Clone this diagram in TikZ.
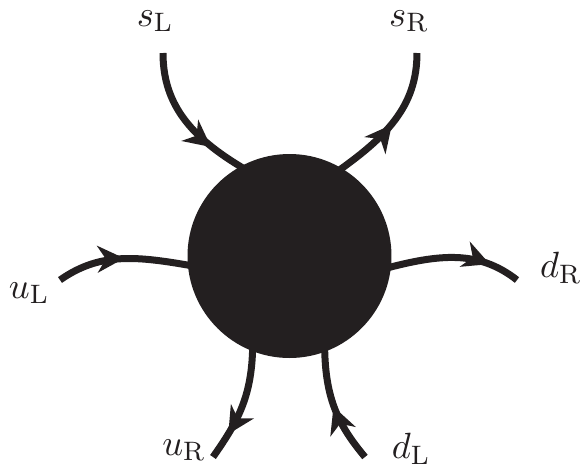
\documentclass[tikz,border=0pt]{standalone}
\usetikzlibrary{arrows.meta,decorations.markings}
\definecolor{ink}{RGB}{35,31,32}
\begin{document}
\begin{tikzpicture}[x=0.3pt,y=0.3pt,
  leg/.style={ink,line width=2.1pt,postaction={decorate},
    decoration={markings,mark=at position #1 with {\arrow{Stealth[length=8pt,width=8pt,inset=2.5pt]}}}},
  lbl/.style={font=\fontsize{11}{13}\selectfont,text=ink,inner sep=0pt}]
\useasboundingbox (0,0) rectangle (584,469);
% the blob
\node[circle,fill=ink,inner sep=0pt,minimum size=61.2pt] (blob) at (289.5,213) {};
% free ends of the legs
\coordinate (sLend) at (163,416);
\coordinate (sRend) at (417,416);
\coordinate (uLend) at (60,189);
\coordinate (dRend) at (517,189);
\coordinate (uRend) at (213,12);
\coordinate (dLend) at (365,12);
% legs
\draw[leg=0.76,shorten >=-3pt] (sLend) to[out=-90,in=150] (blob.119);
\draw[leg=0.46,shorten <=-3pt] (blob.59) to[out=35,in=-90] (sRend);
\draw[leg=0.52,shorten >=-3pt] (uLend) to[out=35,in=170] (blob.185);
\draw[leg=0.76,shorten <=-3pt] (blob.-6) to[out=15,in=142] (dRend);
\draw[leg=0.76,shorten <=-3pt] (blob.249) to[out=-90,in=55] (uRend);
\draw[leg=0.52,shorten >=-3pt] (dLend) to[out=130,in=-90] (blob.290);
% labels
\node[lbl] (sL) at (155,448) {$s_{\mathrm{L}}$};
\node[lbl] (sR) at (409,448) {$s_{\mathrm{R}}$};
\node[lbl] (uL) at (29,176) {$u_{\mathrm{L}}$};
\node[lbl] (dR) at (561,201) {$d_{\mathrm{R}}$};
\node[lbl] (uR) at (184,19) {$u_{\mathrm{R}}$};
\node[lbl] (dL) at (411,20) {$d_{\mathrm{L}}$};
\end{tikzpicture}
\end{document}
